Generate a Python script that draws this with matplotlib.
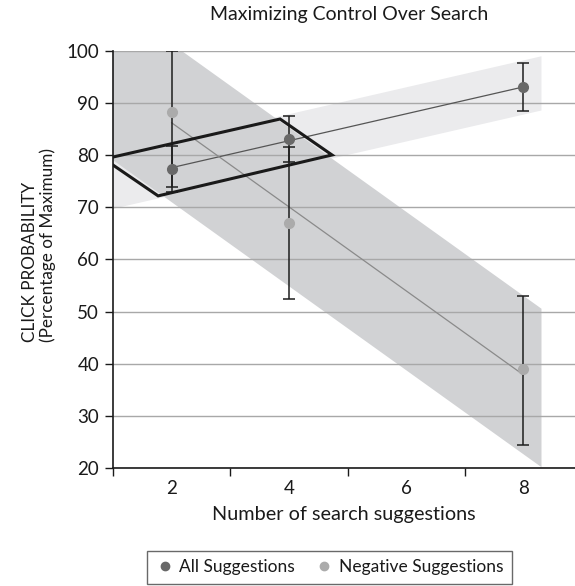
import numpy as np
import matplotlib
matplotlib.use("Agg")
import matplotlib.pyplot as plt
from matplotlib.lines import Line2D

plt.rcParams['font.family'] = ['Lato', 'DejaVu Sans']

# data
suggestions = ['2', '4', '6', '8']
x_all = [2, 4, 8]
all_mean = [77.4, 83.1, 93.0]
all_err = [4.4, 4.4, 4.6]
neg_mean = [88.3, 67.0, 38.9]
neg_err_low = [14.4, 14.5, 14.4]
neg_err_high = [11.7, 14.5, 14.1]

# confidence band half widths around the fitted lines
all_band = 5.2
neg_band = 15.2

# hand-drawn highlight around the overlap (x in category units, y in %)
highlight_x = [-0.575, 0.925, 1.368, -0.115, -0.575]
highlight_y = [79.27, 86.95, 80.05, 72.2, 79.27]

cat_pos = {s: i for i, s in enumerate(suggestions)}
pos = np.array([cat_pos[str(v)] for v in x_all], dtype=float)

fig = plt.figure(figsize=(5.75, 5.86), dpi=100)
ax = fig.add_axes([0.1965, 0.2014, 1 - 0.1965, 0.913 - 0.2014])

xs = np.array([-0.6, 3.15])

# regression fits
k_all, b_all = np.polyfit(pos, all_mean, 1)
k_neg, b_neg = np.polyfit(pos, neg_mean, 1)

ax.fill_between(xs, k_all * xs + b_all - all_band, k_all * xs + b_all + all_band,
                color='#ebebed', lw=0, zorder=1)
ax.fill_between(xs, k_neg * xs + b_neg - neg_band, k_neg * xs + b_neg + neg_band,
                color='#d1d2d4', lw=0, zorder=1.5)

for v in range(20, 101, 10):
    ax.axhline(v, color='#a8a8a8', lw=1.0, zorder=2)

ax.plot(highlight_x, highlight_y, color='#1a1a1a', lw=2.2, zorder=6,
        solid_joinstyle='miter')

ax.plot([pos[0], pos[-1]], [k_all * pos[0] + b_all, k_all * pos[-1] + b_all],
        color='#555555', lw=0.9, zorder=3)
ax.plot([pos[0], pos[-1]], [k_neg * pos[0] + b_neg, k_neg * pos[-1] + b_neg],
        color='#8a8a8a', lw=0.9, zorder=3)

ax.errorbar(pos, all_mean, yerr=all_err, fmt='none', ecolor='#1e1e1e',
            elinewidth=1.1, capsize=4, capthick=1.1, zorder=4)
ax.errorbar(pos, neg_mean, yerr=[neg_err_low, neg_err_high], fmt='none',
            ecolor='#1e1e1e', elinewidth=1.1, capsize=4, capthick=1.1, zorder=4)
ax.plot(pos, all_mean, 'o', color='#686868', ms=7, zorder=5)
ax.plot(pos, neg_mean, 'o', color='#ababab', ms=7, zorder=5)

ax.set_xlim(-0.5, 3.44)
ax.set_ylim(20, 100)
ax.set_yticks(range(20, 101, 10))
ax.tick_params(axis='y', direction='out', length=6, width=1, labelsize=13.5,
               color='#1a1a1a', labelcolor='#1a1a1a', pad=4)
ax.set_xticks([i - 0.5 for i in range(len(suggestions))])
ax.set_xticklabels([])
ax.set_xticks(range(len(suggestions)), minor=True)
ax.set_xticklabels(suggestions, minor=True)
ax.tick_params(axis='x', which='major', direction='out', length=6, width=1,
               color='#1a1a1a')
ax.tick_params(axis='x', which='minor', length=0, labelsize=13.5,
               labelcolor='#1a1a1a', pad=9)

for side in ['top', 'right']:
    ax.spines[side].set_visible(False)
for side in ['left', 'bottom']:
    ax.spines[side].set_color('#1a1a1a')
    ax.spines[side].set_linewidth(1.2)

ax.set_xlabel('Number of search suggestions', fontsize=14.3, color='#1a1a1a',
              labelpad=6)
ax.set_ylabel('CLICK PROBABILITY\n(Percentage of Maximum)', fontsize=12.3,
              color='#1a1a1a', linespacing=1.1, multialignment='left')
ax.yaxis.set_label_coords(-0.124, 0.535)
fig.text(0.608, 0.976, 'Maximizing Control Over Search', ha='center',
         va='center', fontsize=14, color='#1a1a1a')

handles = [Line2D([], [], marker='o', ls='none', color='#686868', ms=6),
           Line2D([], [], marker='o', ls='none', color='#ababab', ms=6)]
leg = fig.legend(handles, ['All Suggestions', 'Negative Suggestions'],
                 loc='center', bbox_to_anchor=(0.573, 0.032), ncol=2,
                 frameon=True, fancybox=False, fontsize=12.5,
                 handletextpad=0.35, columnspacing=1.15, handlelength=1.0,
                 borderpad=0.5, borderaxespad=0)
leg.get_frame().set_edgecolor('#444444')
leg.get_frame().set_linewidth(1.0)
for t in leg.get_texts():
    t.set_color('#1a1a1a')

fig.savefig('out.png', dpi=100)
